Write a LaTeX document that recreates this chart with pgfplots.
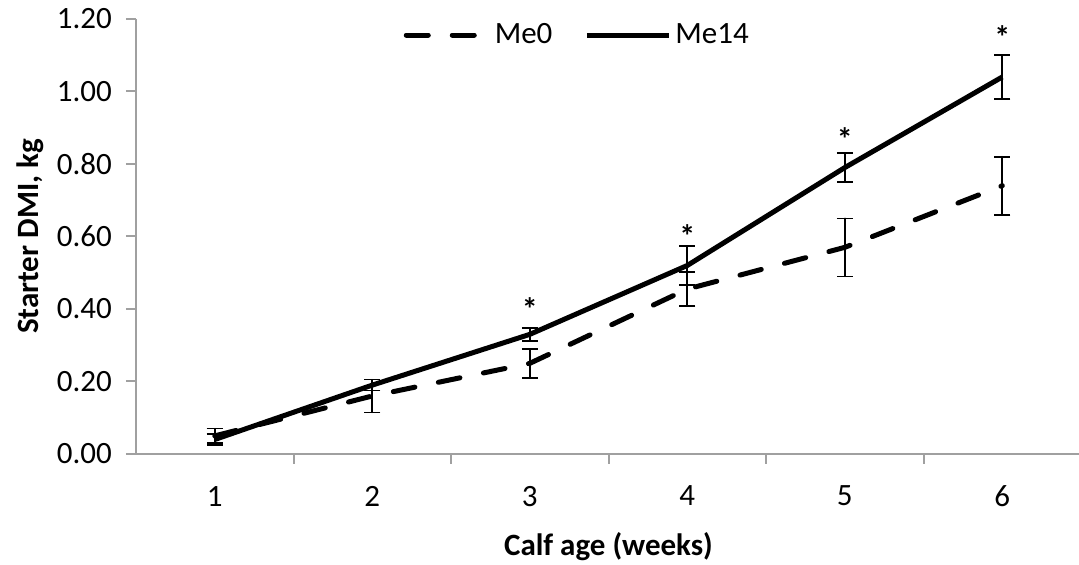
\documentclass[border=0pt]{standalone}
\usepackage{fontspec}
\setmainfont{Carlito}
\usepackage{pgfplots}
\pgfplotsset{compat=1.18}
\definecolor{axgray}{HTML}{A0A0A0}
\begin{document}
\begin{tikzpicture}
\begin{axis}[
    scale only axis,
    width=472.5pt,
    height=217.5pt,
    xmin=0.5, xmax=6.5,
    ymin=0, ymax=1.2,
    axis x line*=bottom,
    axis y line*=left,
    axis line style={axgray, line width=1pt, -},
    % category labels without ticks, ticks between categories
    xtick={1,...,6},
    major x tick style={draw=none},
    minor xtick={1.5,2.5,...,5.5},
    minor x tick style={axgray, line width=1pt},
    minor tick length=5pt,
    ytick={0,0.2,...,1.2},
    major y tick style={axgray, line width=1pt},
    major tick length=5pt,
    tick align=outside,
    yticklabel style={xshift=-3.5pt, /pgf/number format/.cd, fixed, fixed zerofill, precision=2},
    /pgf/number format/assume math mode=true,
    ticklabel style={font=\fontsize{15.5}{17}\selectfont, black},
    xticklabel style={yshift=-7.5pt},
    xlabel={\bfseries Calf age (weeks)},
    ylabel={\bfseries Starter DMI, kg},
    label style={font=\fontsize{15.5}{17}\selectfont},
    xlabel style={yshift=-6pt},
    ylabel style={yshift=-0.5pt},
    legend style={draw=none, fill=none, at={(0.468,0.963)}, anchor=center,
      legend columns=2, font=\fontsize{15.5}{17}\selectfont,
      /tikz/every even column/.append style={column sep=14pt}},
    legend image code/.code={\draw[#1] (0pt,0pt) -- (41pt,0pt);},
    clip=false,
]

  % Me0
  \addplot[black, line width=2.5pt, line cap=round, dash pattern=on 11pt off 12pt,
    error bars/.cd, y dir=both, y explicit,
    error bar style={line width=0.8pt, solid},
    error mark options={rotate=90, mark size=4pt, line width=0.8pt, solid},
  ] table [y error=e] {
    x  y     e
    1  0.05  0.02
    2  0.16  0.045
    3  0.25  0.04
    4  0.455 0.047
    5  0.57  0.08
    6  0.74  0.08
  };

  % Me14
  \addplot[black, line width=2.5pt,
    error bars/.cd, y dir=both, y explicit,
    error bar style={line width=0.8pt},
    error mark options={rotate=90, mark size=4pt, line width=0.8pt},
  ] table [y error=e] {
    x  y     e
    1  0.04  0.015
    2  0.19  0.015
    3  0.33  0.018
    4  0.52  0.054
    5  0.79  0.04
    6  1.04  0.06
  };

  \legend{Me0,Me14}

  % significance marks
  \addplot[draw=none, forget plot, point meta=explicit symbolic,
    nodes near coords, every node near coord/.append style={anchor=center,
      font=\bfseries\fontsize{16}{18}\selectfont}] table [meta=m] {
    x  y     m
    3  0.40  *
    4  0.60  *
    5  0.87  *
    6  1.15  *
  };

\end{axis}
\pgfresetboundingbox
\path[use as bounding box] ([xshift=-68pt, yshift=-55.5pt]current axis.south west)
  rectangle ([xshift=-1pt, yshift=9.5pt]current axis.north east);
\end{tikzpicture}
\end{document}
